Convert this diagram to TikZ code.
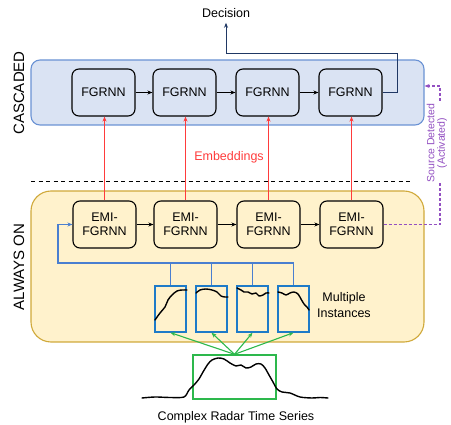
\documentclass[tikz,border=0pt]{standalone}
\usepackage{fontspec}
\setmainfont{Liberation Sans}
\usetikzlibrary{arrows.meta}
\definecolor{cascfill}{HTML}{DAE3F3}
\definecolor{cascdraw}{HTML}{6A92D4}
\definecolor{aofill}{HTML}{FFF2CC}
\definecolor{aodraw}{HTML}{D0A93A}
\definecolor{instblue}{HTML}{1E7BC8}
\definecolor{fbblue}{HTML}{4A7FD0}
\definecolor{grn}{HTML}{2DB84C}
\definecolor{redc}{HTML}{FF3B3B}
\definecolor{navy}{HTML}{203864}
\definecolor{purp}{HTML}{9350C2}
\tikzset{
  txt/.style={font=\fontsize{12.5}{14}\selectfont},
  cell/.style={draw=black, line width=1.1pt, rounded corners=7pt, minimum width=63pt, minimum height=47pt, align=center, txt, inner sep=0pt},
  tip/.style={-{Stealth[length=5pt,width=4pt]}},
  inst/.style={draw=instblue, line width=1.4pt, minimum width=31pt, minimum height=46pt, inner sep=0pt},
  wave/.style={line width=1.4pt, black, line join=round, line cap=round},
}
\begin{document}
\begin{tikzpicture}[x=1pt,y=-1pt]
\useasboundingbox (0,0) rectangle (451,425);
% containers
\node[draw=cascdraw, fill=cascfill, line width=1.1pt, rounded corners=9pt, minimum width=393pt, minimum height=65pt, inner sep=0pt] (casc) at (227.5,92.5) {};
\node[draw=aodraw, fill=aofill, line width=1.1pt, rounded corners=20pt, minimum width=393pt, minimum height=151pt, inner sep=0pt] (ao) at (227.5,266.5) {};
\node[rotate=90, font=\fontsize{15}{17}\selectfont] (lc) at (19,93) {CASCADED};
\node[rotate=90, font=\fontsize{15}{17}\selectfont] (la) at (19,267) {ALWAYS ON};
% FGRNN row
\node[cell] (f1) at (103.5,92.5) {FGRNN};
\node[cell] (f2) at (184.5,92.5) {FGRNN};
\node[cell] (f3) at (267.5,92.5) {FGRNN};
\node[cell] (f4) at (350.5,92.5) {FGRNN};
\draw[tip, line width=0.9pt] (f1) -- (f2);
\draw[tip, line width=0.9pt] (f2) -- (f3);
\draw[tip, line width=0.9pt] (f3) -- (f4);
% EMI row
\node[cell, fill=aofill] (e1) at (104.5,224.5) {EMI-\\FGRNN};
\node[cell, fill=aofill] (e2) at (185.5,224.5) {EMI-\\FGRNN};
\node[cell, fill=aofill] (e3) at (268.5,224.5) {EMI-\\FGRNN};
\node[cell, fill=aofill] (e4) at (351.5,224.5) {EMI-\\FGRNN};
\draw[tip, line width=0.9pt] (e1) -- (e2);
\draw[tip, line width=0.9pt] (e2) -- (e3);
\draw[tip, line width=0.9pt] (e3) -- (e4);
% embeddings
\foreach \i in {1,2,3,4}{
  \draw[tip, redc, line width=1.1pt] (e\i.north) -- (e\i.north |- f\i.south);
}
\node[txt, text=redc] (emb) at (229,157) {Embeddings};
% dashed separator
\coordinate (dl) at (31,182);
\coordinate (dr) at (413,182);
\draw[line width=1pt, dash pattern=on 4pt off 3.5pt] (dl) -- (dr);
% decision
\node[txt, inner sep=2pt] (dec) at (226,13) {Decision};
\coordinate (dturn) at (397,54);
\draw[navy, line width=1pt, tip, shorten >=3pt] (f4.east) -| (dturn) -| (dec.south);
% source detected
\coordinate (pc) at (440,86);
\coordinate (pin) at (casc.east |- pc);
\draw[purp, line width=1.1pt, dash pattern=on 3pt off 2pt, tip] (e4.east) -| (pc) -- (pin);
\node[rotate=90, text=purp, fill=white, inner sep=0.5pt, align=center, font=\fontsize{10.5}{10.5}\selectfont] (src) at (437,143) {Source Detected\\(Activated)};
% instances
\node[inst] (i1) at (170.5,309) {};
\node[inst] (i2) at (211.5,309) {};
\node[inst] (i3) at (252.5,309) {};
\node[inst] (i4) at (293.5,309) {};
\coordinate (bl) at (58,263);
\draw[fbblue, line width=1.1pt, tip] (i4.north) |- (bl) |- (e1.west);
\draw[fbblue, line width=1.1pt] (i1.north) -- (i1.north |- bl);
\draw[fbblue, line width=1.1pt] (i2.north) -- (i2.north |- bl);
\draw[fbblue, line width=1.1pt] (i3.north) -- (i3.north |- bl);
\node[txt, align=center, font=\fontsize{12.5}{16}\selectfont] (mi) at (344,305) {Multiple\\Instances};
% waves in instances
\draw[wave] plot[smooth] coordinates {(155,320) (160,313) (165,307) (168,300) (172,295) (177,291) (182,290) (187,290)};
\draw[wave] plot[smooth] coordinates {(196,293) (200,290) (206,289) (212,290) (217,292) (221,296) (225,297) (228,297)};
\draw[wave] plot[smooth] coordinates {(237,288) (241,290) (244,292) (248,292) (252,294) (256,293) (259,296) (263,295) (266,293) (269,293)};
\draw[wave] plot[smooth] coordinates {(278,292) (282,293) (286,295) (290,293) (294,292) (298,294) (301,299) (304,304) (307,307) (309,310)};
% green selection
\node[draw=grn, line width=1.4pt, minimum width=83pt, minimum height=44pt, inner sep=0pt] (gb) at (234.5,377) {};
\foreach \i in {1,2,3,4}{
  \draw[grn, line width=1.1pt, tip] (gb.north) -- (i\i.south);
}
% radar series
\draw[wave] plot[smooth] coordinates {(142,398) (155,397) (170,397.5) (184,397) (189,390) (194,385) (199,379) (203,372) (208,364) (212,360) (218,358) (224,359) (230,363) (236,366) (241,365) (246,368) (251,367) (256,364) (261,364) (265,368) (269,375) (273,382) (277,389) (282,392) (290,393) (300,397) (312,398) (320,397.5) (328,398)};
\node[txt] (crts) at (236,417) {Complex Radar Time Series};
\end{tikzpicture}
\end{document}
